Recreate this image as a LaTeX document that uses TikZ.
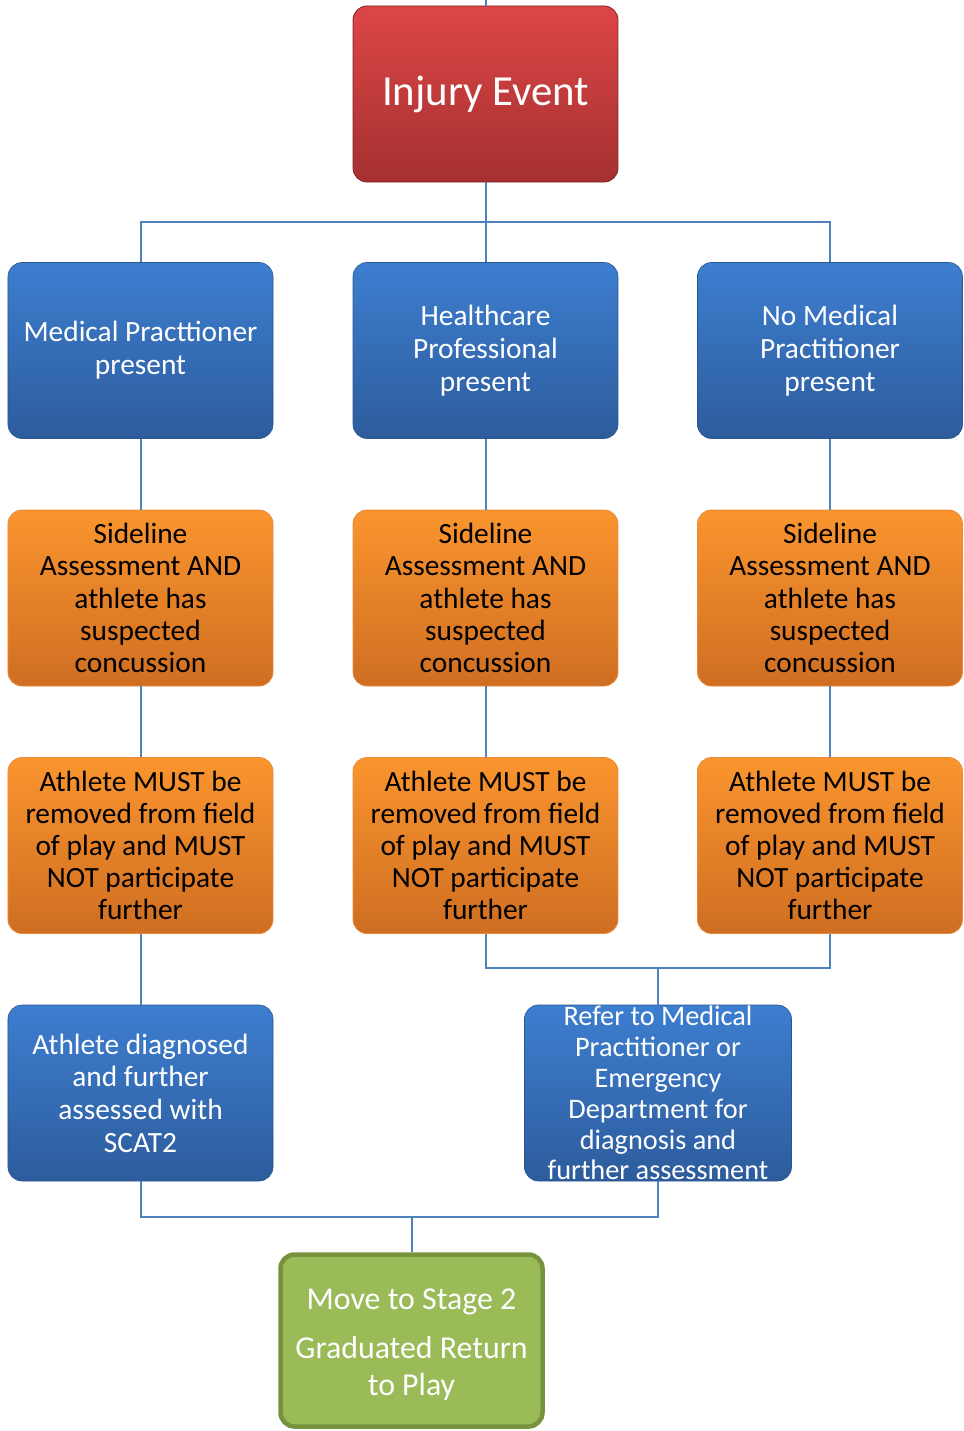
\documentclass[tikz,border=0pt]{standalone}
\usepackage{fontspec}
\setmainfont{Carlito}
\definecolor{conn}{HTML}{4F81BD}
\definecolor{redT}{HTML}{DD4646}
\definecolor{redB}{HTML}{A53030}
\definecolor{redD}{HTML}{7E2222}
\definecolor{bluT}{HTML}{3D7ED0}
\definecolor{bluB}{HTML}{2D5C9C}
\definecolor{bluD}{HTML}{2A568F}
\definecolor{orT}{HTML}{FA952E}
\definecolor{orB}{HTML}{CF6E22}
\definecolor{orD}{HTML}{E88A3A}
\definecolor{grF}{HTML}{9BBB59}
\definecolor{grD}{HTML}{76923C}
\tikzset{
  box/.style={rectangle, rounded corners=14bp, minimum width=265bp, minimum height=176bp, inner sep=0pt, align=center, anchor=center},
  redbox/.style={box, top color=redT, bottom color=redB, draw=redD, line width=0.8bp, text=white, font=\fontsize{43}{48}\selectfont},
  bluebox/.style={box, top color=bluT, bottom color=bluB, draw=bluD, line width=0.6bp, text=white, font=\fontsize{29.5}{32.8}\selectfont},
  orbox/.style={box, top color=orT, bottom color=orB, draw=orD, line width=0.8bp, text=black, font=\fontsize{29.5}{32.3}\selectfont},
  refbox/.style={bluebox, font=\fontsize{28.4}{31}\selectfont},
  grbox/.style={box, fill=grF, draw=grD, line width=4.5bp, minimum width=262bp, minimum height=172bp},
  grtext/.style={inner sep=0pt, align=center, text=white, font=\fontsize{32}{37}\selectfont},
  link/.style={draw=conn, line width=2bp}
}
\begin{document}
\begin{tikzpicture}[x=1bp,y=-1bp]
\useasboundingbox (0,0) rectangle (963,1431);
% row 0
\node[redbox] (ie) at (485.5,94) {Injury Event};
% row 1
\node[bluebox] (mp) at (140.5,350.5) {Medical Practtioner\\present};
\node[bluebox] (hp) at (485.5,350.5) {Healthcare\\Professional\\present};
\node[bluebox] (np) at (830,350.5) {No Medical\\Practitioner\\present};
% row 2
\node[orbox] (sa1) at (140.5,598) {Sideline\\Assessment AND\\athlete has\\suspected\\concussion};
\node[orbox] (sa2) at (485.5,598) {Sideline\\Assessment AND\\athlete has\\suspected\\concussion};
\node[orbox] (sa3) at (830,598) {Sideline\\Assessment AND\\athlete has\\suspected\\concussion};
% row 3
\node[orbox] (rm1) at (140.5,845.5) {Athlete MUST be\\removed from field\\of play and MUST\\NOT participate\\further};
\node[orbox] (rm2) at (485.5,845.5) {Athlete MUST be\\removed from field\\of play and MUST\\NOT participate\\further};
\node[orbox] (rm3) at (830,845.5) {Athlete MUST be\\removed from field\\of play and MUST\\NOT participate\\further};
% row 4
\node[bluebox] (ad) at (140.5,1093) {Athlete diagnosed\\and further\\assessed with\\SCAT2};
\node[refbox, minimum width=267bp] (ref) at (658,1093) {Refer to Medical\\Practitioner or\\Emergency\\Department for\\diagnosis and\\further assessment};
% row 5
\node[grbox] (gr) at (411.5,1340.5) {};
\node[grtext] (grt) at ([yshift=-4.5bp]gr.center) {Move to Stage 2\\[12bp]Graduated Return\\to Play};
% connectors
\coordinate (topend) at (485.5,0);
\coordinate (bus1) at (485.5,222);
\coordinate (bus2) at (658,968);
\coordinate (bus3) at (411.5,1217);
\path[link] (ie.north) -- (topend);
\path[link] (ie.south) -- (hp.north);
\path[link] (mp.north) |- (bus1) -| (np.north);
\path[link] (mp.south) -- (sa1.north);
\path[link] (hp.south) -- (sa2.north);
\path[link] (np.south) -- (sa3.north);
\path[link] (sa1.south) -- (rm1.north);
\path[link] (sa2.south) -- (rm2.north);
\path[link] (sa3.south) -- (rm3.north);
\path[link] (rm1.south) -- (ad.north);
\path[link] (rm2.south) |- (bus2) -| (rm3.south);
\path[link] (bus2) -- (ref.north);
\path[link] (ad.south) |- (bus3) -| (ref.south);
\path[link] (bus3) -- (gr.north);
\end{tikzpicture}
\end{document}
